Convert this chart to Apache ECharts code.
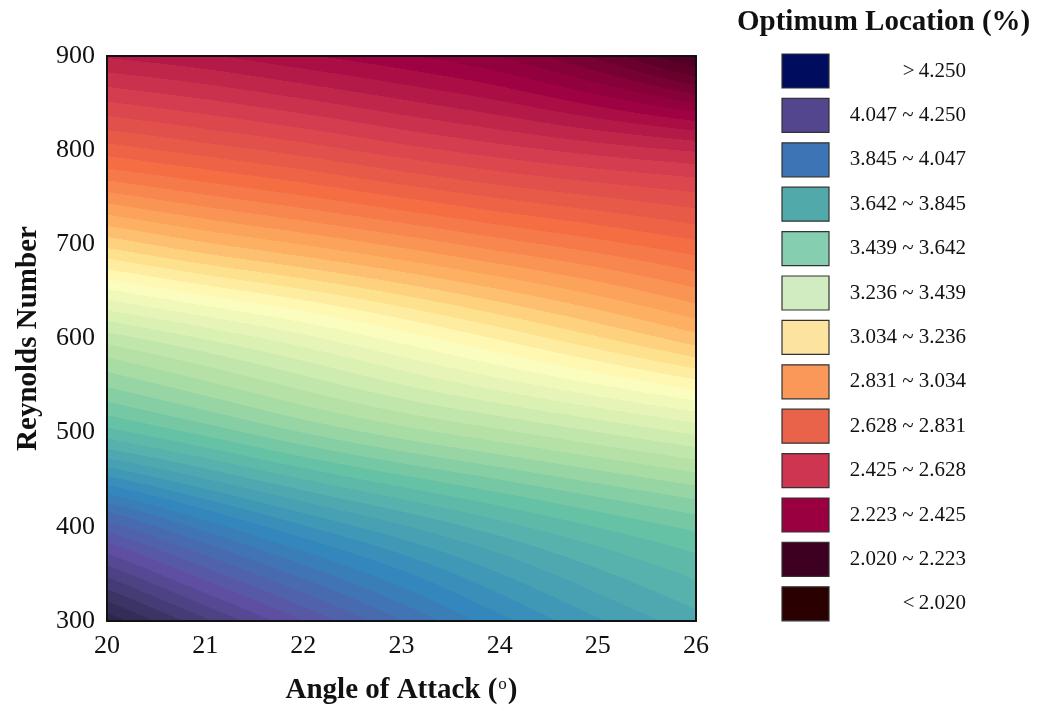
<!DOCTYPE html>
<html>
<head>
<meta charset="utf-8">
<script src="https://cdn.jsdelivr.net/npm/echarts@6/dist/echarts.min.js"></script>
<style>
html,body{margin:0;padding:0;background:#fff;}
#chart{width:1037px;height:711px;}
</style>
</head>
<body>
<div id="chart"></div>
<script>
// ---------------- data ----------------
const AOA = [20, 21, 22, 23, 24, 25, 26];              // Angle of attack (deg)
const RE  = [300, 400, 500, 600, 700, 800, 900];       // Reynolds number
// Optimum location (%) read per Reynolds-number row, AoA 20..26
const LOC_RE300 = [4.40, 4.26, 4.13, 4.01, 3.90, 3.81, 3.74];
const LOC_RE400 = [4.07, 3.95, 3.85, 3.77, 3.70, 3.64, 3.59];
const LOC_RE500 = [3.66, 3.59, 3.52, 3.46, 3.41, 3.36, 3.31];
const LOC_RE600 = [3.38, 3.315, 3.25, 3.18, 3.11, 3.04, 2.97];
const LOC_RE700 = [3.02, 2.96, 2.91, 2.86, 2.81, 2.765, 2.72];
const LOC_RE800 = [2.69, 2.65, 2.61, 2.565, 2.525, 2.49, 2.46];
const LOC_RE900 = [2.42, 2.39, 2.35, 2.31, 2.26, 2.17, 2.05];
const X_TICKS = [20, 21, 22, 23, 24, 25, 26];
const Y_TICKS = [300, 400, 500, 600, 700, 800, 900];
// legend thresholds (descending) and colours
const LEGEND_BOUNDS = [4.250, 4.047, 3.845, 3.642, 3.439, 3.236, 3.034, 2.831, 2.628, 2.425, 2.223, 2.020];
const LEGEND_COLORS = ['#000c5e', '#54458f', '#3d74b5', '#52a9a9', '#86ceb0', '#d0ecc0',
                       '#fde3a0', '#f99858', '#e9624a', '#cd3551', '#9a003f', '#3e0021', '#2a0000'];
// colormap of the filled contour (value -> colour)
const CMAP_VALUES = [1.95, 2.05, 2.32, 2.53, 2.73, 2.93, 3.05, 3.16, 3.28, 3.45, 3.62, 3.90, 4.15, 4.40, 4.60];
const CMAP_COLORS = ['#2a0010', '#45001f', '#9e0142', '#d53e4f', '#f46d43', '#fdae61', '#fee08b',
                     '#ffffbf', '#e0f3b5', '#abdda4', '#66c2a5', '#3288bd', '#5e4fa2', '#2a2545', '#1a1a35'];
const LEVEL_BASE = 2.020;
const LEVEL_STEP = (4.250 - 2.020) / 55;

const GRID = [LOC_RE300, LOC_RE400, LOC_RE500, LOC_RE600, LOC_RE700, LOC_RE800, LOC_RE900];

// ---------------- helpers ----------------
function hexToRgb(h){ h=h.replace('#',''); return [parseInt(h.substr(0,2),16),parseInt(h.substr(2,2),16),parseInt(h.substr(4,2),16)]; }
const CMAP_RGB = CMAP_COLORS.map(hexToRgb);
function cmap(v){
  const n = CMAP_VALUES.length;
  if (v <= CMAP_VALUES[0]) return CMAP_RGB[0];
  if (v >= CMAP_VALUES[n-1]) return CMAP_RGB[n-1];
  for (let k = 0; k < n-1; k++){
    if (v <= CMAP_VALUES[k+1]){
      const t = (v - CMAP_VALUES[k])/(CMAP_VALUES[k+1]-CMAP_VALUES[k]);
      const a = CMAP_RGB[k], b = CMAP_RGB[k+1];
      return [a[0]+(b[0]-a[0])*t, a[1]+(b[1]-a[1])*t, a[2]+(b[2]-a[2])*t];
    }
  }
  return CMAP_RGB[n-1];
}
function bandColor(v){
  const k = Math.floor((v - LEVEL_BASE)/LEVEL_STEP);
  return cmap(LEVEL_BASE + (k+0.5)*LEVEL_STEP);
}
// smooth (Catmull-Rom) surface through the grid values, as a contouring tool would
function rowAt(arr, idx){
  const n = arr.length;
  if (idx < 0) return 2*arr[0] - arr[1];
  if (idx > n-1) return 2*arr[n-1] - arr[n-2];
  return arr[idx];
}
function cr(p0,p1,p2,p3,t){
  return 0.5*((2*p1) + (-p0+p2)*t + (2*p0-5*p1+4*p2-p3)*t*t + (-p0+3*p1-3*p2+p3)*t*t*t);
}
function interp1(arr, u){
  let i = Math.floor(u); if (i >= arr.length-1) i = arr.length-2; if (i < 0) i = 0;
  const t = u - i;
  return cr(rowAt(arr,i-1), rowAt(arr,i), rowAt(arr,i+1), rowAt(arr,i+2), t);
}
function surface(u, v){
  const col = GRID.map(r => interp1(r, u));
  return interp1(col, v);
}

const seriesData = [];
for (let j = 0; j < RE.length; j++)
  for (let i = 0; i < AOA.length; i++)
    seriesData.push([AOA[i], RE[j], GRID[j][i], i, j]);

function renderCell(params, api){
  const i = api.value(3), j = api.value(4);
  if (i >= AOA.length-1 || j >= RE.length-1) return null;
  const pBL = api.coord([AOA[i], RE[j]]);
  const pTR = api.coord([AOA[i+1], RE[j+1]]);
  const X0 = pBL[0], X1 = pTR[0], Yb = pBL[1], Yt = pTR[1];
  const px0 = Math.round(X0), px1 = Math.round(X1), py0 = Math.round(Yt), py1 = Math.round(Yb);
  const w = px1-px0, h = py1-py0;
  const cv = document.createElement('canvas');
  cv.width = w; cv.height = h;
  const ctx = cv.getContext('2d');
  const img = ctx.createImageData(w, h);
  for (let cy = 0; cy < h; cy++){
    const fy = (Yb - (py0+cy+0.5))/(Yb-Yt);
    for (let cx = 0; cx < w; cx++){
      const fx = (px0+cx+0.5 - X0)/(X1-X0);
      const v = surface(i+fx, j+fy);
      const c = bandColor(v);
      const o = (cy*w+cx)*4;
      img.data[o]=c[0]; img.data[o+1]=c[1]; img.data[o+2]=c[2]; img.data[o+3]=255;
    }
  }
  ctx.putImageData(img, 0, 0);
  return {type:'image', style:{image: cv, x: px0, y: py0, width: w, height: h}};
}

// ---------------- legend (graphic) ----------------
const SERIF = 'Liberation Serif';
const legendLabels = [];
legendLabels.push('>\u2009' + LEGEND_BOUNDS[0].toFixed(3));
for (let k = 1; k < LEGEND_BOUNDS.length; k++)
  legendLabels.push(LEGEND_BOUNDS[k].toFixed(3) + ' ~ ' + LEGEND_BOUNDS[k-1].toFixed(3));
legendLabels.push('<\u2009' + LEGEND_BOUNDS[LEGEND_BOUNDS.length-1].toFixed(3));

const graphics = [{
  type:'text', left: 737, top: 8,
  style:{text:'Optimum Location (%)', font:'bold 29px "Liberation Serif"', fill:'#111'}
}];
legendLabels.forEach((lab, k) => {
  const top = 54 + k*44.4;
  graphics.push({type:'rect', shape:{x:782, y:top, width:47, height:34},
    style:{fill: LEGEND_COLORS[k], stroke:'#333', lineWidth:1.2}});
  graphics.push({type:'text', x: 966, y: top+17,
    style:{text: lab, font:'21px "Liberation Serif"', fill:'#111', textAlign:'right', textVerticalAlign:'middle'}});
});

// ---------------- chart ----------------
const chart = echarts.init(document.getElementById('chart'), null, {renderer:'canvas'});
const axisLabelStyle = {fontFamily: SERIF, fontSize: 26, color: '#111'};
chart.setOption({
  animation: false,
  backgroundColor: '#fff',
  grid: {left: 107, right: 341, top: 56, bottom: 90},
  xAxis: [{
    type:'value', min: X_TICKS[0], max: X_TICKS[X_TICKS.length-1], interval: 1, position:'bottom', z: 10,
    axisLine:{show:true, onZero:false, lineStyle:{color:'#111', width:2}},
    axisTick:{show:false}, splitLine:{show:false},
    axisLabel: Object.assign({margin: 12}, axisLabelStyle),
    name: '{a|Angle of Attack (}{s|o}{a|)}', nameLocation:'middle', nameGap: 55,
    nameTextStyle:{rich:{a:{fontFamily:SERIF, fontSize:29, fontWeight:'bold', color:'#111'},
                         s:{fontFamily:SERIF, fontSize:17, color:'#111', verticalAlign:'top', padding:[0,1,0,1]}}}
  },{
    type:'value', min: X_TICKS[0], max: X_TICKS[X_TICKS.length-1], interval: 1, position:'top', z: 10,
    axisLine:{show:true, onZero:false, lineStyle:{color:'#111', width:2}},
    axisTick:{show:false}, splitLine:{show:false}, axisLabel:{show:false}
  }],
  yAxis: [{
    type:'value', min: Y_TICKS[0], max: Y_TICKS[Y_TICKS.length-1], interval: 100, position:'left', z: 10,
    axisLine:{show:true, onZero:false, lineStyle:{color:'#111', width:2}},
    axisTick:{show:false}, splitLine:{show:false},
    axisLabel: Object.assign({margin: 12}, axisLabelStyle),
    name:'Reynolds Number', nameLocation:'middle', nameGap: 64,
    nameTextStyle:{fontFamily:SERIF, fontSize:29, fontWeight:'bold', color:'#111'}
  },{
    type:'value', min: Y_TICKS[0], max: Y_TICKS[Y_TICKS.length-1], interval: 100, position:'right', z: 10,
    axisLine:{show:true, onZero:false, lineStyle:{color:'#111', width:2}},
    axisTick:{show:false}, splitLine:{show:false}, axisLabel:{show:false}
  }],
  series: [{
    type:'custom', coordinateSystem:'cartesian2d', xAxisIndex:0, yAxisIndex:0,
    silent: true, clip: true, renderItem: renderCell, data: seriesData,
    encode: {x: 0, y: 1}
  }],
  graphic: graphics
});
</script>
</body>
</html>
